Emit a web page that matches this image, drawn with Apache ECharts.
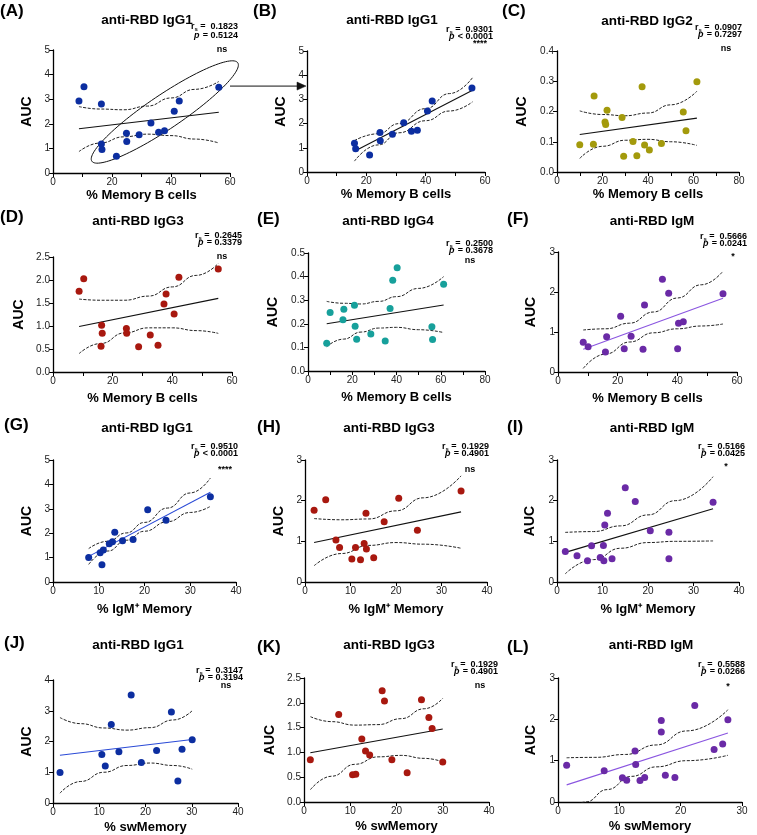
<!DOCTYPE html>
<html><head><meta charset="utf-8">
<script src="https://cdn.jsdelivr.net/npm/echarts@6/dist/echarts.min.js"></script>
<style>html,body{margin:0;padding:0;background:#fff}#c{width:757px;height:835px}</style>
</head><body><div id="c"></div>
<script>
// ---------------- DATA ----------------
const panelLetters = ['(A)','(B)','(C)','(D)','(E)','(F)','(G)','(H)','(I)','(J)','(K)','(L)'];
const titles = ['anti-RBD IgG1','anti-RBD IgG1','anti-RBD IgG2','anti-RBD IgG3','anti-RBD IgG4','anti-RBD IgM',
                'anti-RBD IgG1','anti-RBD IgG3','anti-RBD IgM','anti-RBD IgG1','anti-RBD IgG3','anti-RBD IgM'];
const xNames = ['% Memory B cells','% Memory B cells','% Memory B cells','% Memory B cells','% Memory B cells','% Memory B cells',
                '% IgM\u207A Memory','% IgM\u207A Memory','% IgM\u207A Memory','% swMemory','% swMemory','% swMemory'];
const rsValues = ['0.1823','0.9301','0.0907','0.2645','0.2500','0.5666','0.9510','0.1929','0.5166','0.3147','0.1929','0.5588'];
const pValues  = ['= 0.5124','< 0.0001','= 0.7297','= 0.3379','= 0.3678','= 0.0241','< 0.0001','= 0.4901','= 0.0425','= 0.3194','= 0.4901','= 0.0266'];
const sigLabels = ['ns','****','ns','ns','ns','*','****','ns','*','ns','ns','*'];

// axis ranges
const xMaxes = [60,60,80,60,80,60,40,40,40,40,40,30];
const xSteps = [20,20,20,20,20,20,10,10,10,10,10,10];
const yMaxes = [5,5,0.4,2.5,0.5,3,5,3,3,4,2.5,3];
const ySteps = [1,1,0.1,0.5,0.1,1,1,1,1,1,0.5,1];

// (A) IgG1 vs % Memory B cells
const ptsA = [[8.8,2.93],[10.5,3.51],[16.4,2.80],[16.4,1.18],[16.6,0.96],[21.5,0.68],[24.9,1.62],[25.0,1.28],[29.2,1.55],[33.2,2.03],[35.8,1.66],[37.8,1.72],[41.1,2.51],[42.8,2.93],[56.2,3.49]];
const fitA = [[8.8,1.80],[56.2,2.47]];
const upA = [[8.8,2.70],[16,2.60],[24,2.57],[32,2.72],[40,3.05],[48,3.40],[56.2,3.72]];
const loA = [[8.8,0.87],[16,1.22],[24,1.47],[32,1.58],[40,1.52],[48,1.38],[56.2,1.22]];
// (B) IgG1 subset
const ptsB = [[16.0,1.19],[16.4,0.96],[21.1,0.70],[24.6,1.63],[24.7,1.29],[28.8,1.56],[32.6,2.03],[35.2,1.68],[37.2,1.73],[40.6,2.52],[42.2,2.93],[55.6,3.47]];
const fitB = [[16,0.86],[55.8,3.38]];
const upB = [[16,1.30],[24,1.58],[31,2.0],[40,2.62],[48,3.24],[55.8,3.90]];
const loB = [[16,0.45],[24,1.12],[31,1.62],[40,2.12],[48,2.52],[55.8,2.90]];
// (C) IgG2
const ptsC = [[10.0,0.090],[16.0,0.092],[16.3,0.251],[21.1,0.165],[21.4,0.157],[22.0,0.204],[28.6,0.180],[29.3,0.052],[33.4,0.101],[35.1,0.054],[37.4,0.282],[38.5,0.089],[40.6,0.073],[45.9,0.094],[55.5,0.198],[56.7,0.136],[61.5,0.298]];
const fitC = [[10,0.124],[61.5,0.178]];
const upC = [[10,0.202],[20,0.190],[30,0.186],[40,0.195],[50,0.222],[61.5,0.267]];
const loC = [[10,0.045],[20,0.085],[30,0.105],[40,0.108],[50,0.100],[61.5,0.088]];
// (D) IgG3
const ptsD = [[8.75,1.758],[10.3,2.025],[16.3,1.016],[16.5,0.843],[16.1,0.562],[24.6,0.944],[24.7,0.843],[28.7,0.548],[32.6,0.807],[35.2,0.584],[37.2,1.477],[37.9,1.693],[40.6,1.261],[42.2,2.06],[55.4,2.24]];
const fitD = [[8.75,0.99],[55.4,1.60]];
const upD = [[8.75,1.585],[16,1.56],[24,1.56],[32,1.65],[40,1.85],[48,2.10],[55.4,2.36]];
const loD = [[8.75,0.40],[16,0.62],[24,0.85],[32,0.96],[40,0.96],[48,0.90],[55.4,0.84]];
// (E) IgG4
const ptsE = [[8.45,0.118],[10.0,0.248],[15.8,0.217],[16.2,0.262],[21.0,0.279],[21.3,0.190],[22.0,0.135],[28.4,0.157],[34.9,0.127],[37.1,0.265],[38.3,0.385],[40.3,0.438],[56.0,0.188],[56.3,0.133],[61.3,0.368]];
const fitE = [[8.45,0.200],[61.3,0.280]];
const upE = [[8.45,0.295],[16,0.287],[24,0.284],[32,0.295],[40,0.315],[50,0.35],[61.3,0.40]];
const loE = [[8.45,0.103],[16,0.135],[24,0.165],[32,0.182],[40,0.185],[50,0.175],[61.3,0.163]];
// (F) IgM
const ptsF = [[8.46,0.742],[10.1,0.633],[15.9,0.50],[16.3,0.883],[21.0,1.392],[22.2,0.583],[24.5,0.892],[28.5,0.567],[29.0,1.675],[35.0,2.317],[37.1,1.967],[40.1,0.583],[40.4,1.217],[42.0,1.258],[55.3,1.958]];
const fitF = [[8.46,0.567],[55.3,1.842]];
const upF = [[8.46,1.05],[16,1.08],[24,1.22],[32,1.50],[40,1.85],[48,2.18],[55.3,2.52]];
const loF = [[8.46,0.09],[16,0.45],[24,0.75],[32,0.98],[40,1.08],[48,1.15],[55.3,1.20]];
// (G) IgG1 vs % IgM+ Memory
const ptsG = [[7.8,1.008],[10.3,1.20],[10.7,0.71],[11.0,1.31],[12.3,1.57],[13.0,1.65],[13.5,2.04],[15.2,1.69],[17.5,1.74],[20.7,2.96],[24.7,2.53],[34.4,3.49]];
const fitG = [[7.8,1.05],[34.4,3.68]];
const upG = [[7.8,1.37],[12,1.67],[16,2.01],[20,2.44],[25,3.03],[30,3.65],[34.4,4.26]];
const loG = [[7.8,0.72],[12,1.27],[16,1.71],[20,2.08],[25,2.47],[30,2.85],[34.4,3.10]];
// (H) IgG3 vs % IgM+ Memory
const ptsH = [[2.0,1.766],[4.55,2.02],[6.8,1.03],[7.6,0.85],[10.3,0.564],[11.1,0.85],[12.2,0.548],[13.0,0.948],[13.4,1.69],[13.5,0.81],[15.1,0.597],[17.4,1.48],[20.6,2.06],[24.7,1.27],[34.3,2.24]];
const fitH = [[2.0,0.973],[34.3,1.725]];
const upH = [[2,1.56],[8,1.53],[14,1.55],[20,1.75],[26,2.07],[34.3,2.61]];
const loH = [[2,0.40],[8,0.70],[14,0.90],[20,0.97],[26,0.93],[34.3,0.83]];
// (I) IgM vs % IgM+ Memory
const ptsI = [[1.83,0.752],[4.4,0.646],[6.7,0.523],[7.6,0.891],[9.5,0.605],[10.2,0.90],[10.3,0.523],[10.5,1.40],[11.1,1.69],[12.1,0.572],[15.0,2.32],[17.2,1.98],[20.5,1.26],[24.6,0.572],[24.6,1.226],[34.3,1.96]];
const fitI = [[1.83,0.728],[34.3,1.80]];
const upI = [[1.8,1.22],[8,1.24],[14,1.38],[20,1.65],[26,2.00],[34.3,2.59]];
const loI = [[1.8,0.20],[8,0.55],[14,0.83],[20,0.97],[26,1.00],[34.3,1.01]];
// (J) IgG1 vs % swMemory
const ptsJ = [[1.52,0.99],[10.56,1.576],[11.3,1.207],[12.6,2.554],[14.25,1.663],[16.9,3.51],[19.1,1.315],[22.4,1.707],[25.6,2.957],[27.0,0.717],[27.9,1.75],[30.1,2.054]];
const fitJ = [[1.5,1.554],[30.1,2.065]];
const upJ = [[1.5,2.78],[6,2.58],[11,2.44],[16,2.37],[21,2.45],[26,2.70],[30.1,3.0]];
const loJ = [[1.5,0.32],[6,0.70],[11,1.00],[16,1.22],[21,1.30],[26,1.22],[30.1,1.10]];
// (K) IgG3 vs % swMemory
const ptsK = [[1.37,0.851],[7.5,1.764],[10.5,0.547],[11.2,0.561],[12.5,1.27],[13.3,1.027],[14.2,0.946],[16.9,2.243],[17.4,2.034],[19.0,0.851],[22.3,0.588],[25.4,2.06],[27.0,1.703],[27.7,1.48],[30.0,0.804]];
const fitK = [[1.37,0.993],[30,1.473]];
const upK = [[1.4,1.72],[6,1.62],[11,1.55],[16,1.56],[21,1.68],[26,1.88],[30,2.09]];
const loK = [[1.4,0.25],[6,0.52],[11,0.76],[16,0.91],[21,0.94],[26,0.88],[30,0.81]];
// (L) IgM vs % swMemory
const ptsL = [[1.41,0.892],[7.53,0.754],[10.5,0.584],[11.2,0.527],[12.56,1.233],[12.67,0.908],[13.37,0.519],[14.13,0.592],[16.84,1.97],[16.84,1.695],[17.5,0.649],[19.06,0.592],[22.3,2.336],[25.45,1.273],[26.85,1.403],[27.7,1.987]];
const fitL = [[1.41,0.414],[27.7,1.67]];
const upL = [[1.4,1.07],[6,1.08],[11,1.15],[16,1.38],[21,1.72],[27.7,2.23]];
const loL = [[1.4,-0.25],[4.5,0.0],[8,0.30],[12,0.62],[16,0.85],[21,1.00],[27.7,1.13]];

const allPts = [ptsA,ptsB,ptsC,ptsD,ptsE,ptsF,ptsG,ptsH,ptsI,ptsJ,ptsK,ptsL];
const allFit = [fitA,fitB,fitC,fitD,fitE,fitF,fitG,fitH,fitI,fitJ,fitK,fitL];
const allUp  = [upA,upB,upC,upD,upE,upF,upG,upH,upI,upJ,upK,upL];
const allLo  = [loA,loB,loC,loD,loE,loF,loG,loH,loI,loJ,loK,loL];

// ---------------- STYLE / LAYOUT ----------------
const FONT = '"Liberation Sans", Arial, Helvetica, sans-serif';
const BLUE = '#0c2ea0', RED = '#a8180f', OLIVE = '#a39a0c', TEAL = '#17a09b', PURPLE = '#6a2aa6';
const dotColors = [BLUE,BLUE,OLIVE,RED,TEAL,PURPLE,BLUE,RED,PURPLE,BLUE,RED,PURPLE];
const fitColors = ['#111','#111','#111','#111','#111','#8a55e0','#2a4ad6','#111','#111','#2a4ad6','#111','#8a55e0'];
const grids = [
  {left:53,top:50,width:177,height:123},{left:307,top:51,width:178,height:121},{left:557,top:51,width:182,height:121},
  {left:53,top:257,width:179,height:115},{left:308,top:253,width:177,height:118},{left:558,top:252,width:179,height:120},
  {left:53,top:460,width:183,height:122},{left:305,top:460,width:182,height:122},{left:557,top:460,width:182,height:122},
  {left:53,top:680,width:185,height:123},{left:304,top:678,width:185,height:124},{left:558,top:678,width:184,height:124}
];
const titlePos = [[147,20],[392,20],[647,21],[138,221],[388,221],[652,221],[147,428],[389,428],[652,428],[138,645],[389,645],[651,645]];
const letterPos = [[0,11],[253,11],[502,11],[0,217],[257,219],[507,219],[4,425],[257,427],[507,427],[4,643],[257,647],[507,647]];
const statRight = [238,493,742,242,493,747,238,489,745,243,498,745];
const statTop   = [27,30,28,236,244,237,447,447,447,671,665,665];
const statGap   = [9,7,7,7,7,7,7,7,7,7,7,7];
const sigPos    = [[222,50],[480,44],[726,49],[222,257],[470,261],[733,257],[225,470],[470,470],[726,467],[226,686],[480,686],[728,687]];
const yNameGap = [19,19,20,19,20,20,19,19,20,19,19,20];
const xNameGap = [16,16,16,20,20,20,21,21,21,18,18,18];

const yDecimals = [0,0,1,1,1,0,0,0,0,0,1,0];

const gridOpt = [], xAxes = [], yAxes = [], series = [];
for (let i = 0; i < 12; i++) {
  gridOpt.push(Object.assign({containLabel:false}, grids[i]));
  const axisCommon = {
    gridIndex: i, type: 'value', min: 0,
    axisLine: {show: true, onZero: false, lineStyle: {color: '#000', width: 1.3}},
    axisTick: {show: true, length: 4, lineStyle: {color: '#000', width: 1}},
    splitLine: {show: false},
    nameLocation: 'middle'
  };
  xAxes.push(Object.assign({}, axisCommon, {
    max: xMaxes[i], interval: xSteps[i],
    minorTick: {show: xSteps[i] === 20, splitNumber: 2, length: 4, lineStyle: {color: '#000', width: 1}},
    axisLabel: {fontFamily: FONT, fontSize: 10, color: '#222', margin: 4},
    name: xNames[i], nameGap: xNameGap[i],
    nameTextStyle: {fontFamily: FONT, fontWeight: 'bold', fontSize: 13, color: '#000'}
  }));
  const dec = yDecimals[i];
  yAxes.push(Object.assign({}, axisCommon, {
    max: yMaxes[i], interval: ySteps[i],
    axisLabel: {fontFamily: FONT, fontSize: 10, color: '#222', margin: 3,
      formatter: v => dec ? v.toFixed(dec) : String(Math.round(v))},
    name: 'AUC', nameGap: yNameGap[i] + (dec ? 8 : 0),
    nameTextStyle: {fontFamily: FONT, fontWeight: 'bold', fontSize: 14, color: '#000'}
  }));
  const bandStyle = {color: '#222', width: 1, type: [3, 1.5]};
  series.push({type: 'line', xAxisIndex: i, yAxisIndex: i, data: allUp[i], smooth: 0.5, smoothMonotone: 'x',
    showSymbol: false, symbol: 'none', lineStyle: bandStyle, silent: true, z: 2});
  series.push({type: 'line', xAxisIndex: i, yAxisIndex: i, data: allLo[i], smooth: 0.5, smoothMonotone: 'x',
    showSymbol: false, symbol: 'none', lineStyle: bandStyle, silent: true, z: 2});
  series.push({type: 'line', xAxisIndex: i, yAxisIndex: i, data: allFit[i], showSymbol: false, symbol: 'none',
    lineStyle: {color: fitColors[i], width: 1.1}, silent: true, z: 2});
  series.push({type: 'scatter', xAxisIndex: i, yAxisIndex: i, data: allPts[i], symbolSize: 7,
    itemStyle: {color: dotColors[i], opacity: 1}, z: 3});
}

const chart = echarts.init(document.getElementById('c'), null, {renderer: 'canvas'});
chart.setOption({
  animation: false, backgroundColor: '#fff',
  grid: gridOpt, xAxis: xAxes, yAxis: yAxes, series: series
});

// ---------------- ANNOTATIONS ----------------
const gfx = [];
for (let i = 0; i < 12; i++) {
  gfx.push({type: 'text', x: letterPos[i][0], y: letterPos[i][1],
    style: {text: panelLetters[i], font: 'bold 17px ' + FONT, fill: '#000', textAlign: 'left', textVerticalAlign: 'middle'}});
  gfx.push({type: 'text', x: titlePos[i][0], y: titlePos[i][1],
    style: {text: titles[i], font: 'bold 13.5px ' + FONT, fill: '#000', textAlign: 'center', textVerticalAlign: 'middle'}});
  gfx.push({type: 'text', x: statRight[i], y: statTop[i],
    style: {text: '{a|r}{s|s}{a| =  ' + rsValues[i] + '}', textAlign: 'right', textVerticalAlign: 'middle',
      rich: {a: {font: 'bold 9px ' + FONT, fill: '#000', lineHeight: 10},
             s: {font: 'bold 6px ' + FONT, fill: '#000', lineHeight: 10, padding: [5, 0, 0, 0]}}}});
  gfx.push({type: 'text', x: statRight[i], y: statTop[i] + statGap[i],
    style: {text: '{p|p} {a|' + pValues[i] + '}', textAlign: 'right', textVerticalAlign: 'middle',
      rich: {a: {font: 'bold 9px ' + FONT, fill: '#000'}, p: {font: 'italic bold 9px ' + FONT, fill: '#000'}}}});
  gfx.push({type: 'text', x: sigPos[i][0], y: sigPos[i][1],
    style: {text: sigLabels[i], font: 'bold 9px ' + FONT, fill: '#000', textAlign: 'center', textVerticalAlign: 'middle'}});
}
// ellipse around the subset in panel A (annotation), centered in data coords
const ellC = chart.convertToPixel({gridIndex: 0}, [37.9, 2.48]);
const rx = 88, ry = 17, th = 34 * Math.PI / 180;
const ellPts = [];
for (let k = 0; k < 120; k++) {
  const t = k / 120 * Math.PI * 2;
  const ex = rx * Math.cos(t), ey = ry * Math.sin(t);
  ellPts.push([ellC[0] + ex * Math.cos(th) - ey * Math.sin(th), ellC[1] - (ex * Math.sin(th) + ey * Math.cos(th))]);
}
gfx.push({type: 'polygon', shape: {points: ellPts}, style: {fill: 'none', stroke: '#111', lineWidth: 1}, silent: true});
// arrow from panel A ellipse to panel B y-axis
const aStart = chart.convertToPixel({gridIndex: 0}, [60, 3.57]);
const aEnd = chart.convertToPixel({gridIndex: 1}, [0, 3.55]);
const ay = aEnd[1];
gfx.push({type: 'line', shape: {x1: aStart[0], y1: ay, x2: aEnd[0] - 6, y2: ay}, style: {stroke: '#111', lineWidth: 1}, silent: true});
gfx.push({type: 'polygon', shape: {points: [[aEnd[0] - 1, ay], [aEnd[0] - 10, ay - 4], [aEnd[0] - 10, ay + 4]]},
  style: {fill: '#111', stroke: '#111', lineWidth: 0.5}, silent: true});

chart.setOption({graphic: {elements: gfx}});
</script></body></html>
